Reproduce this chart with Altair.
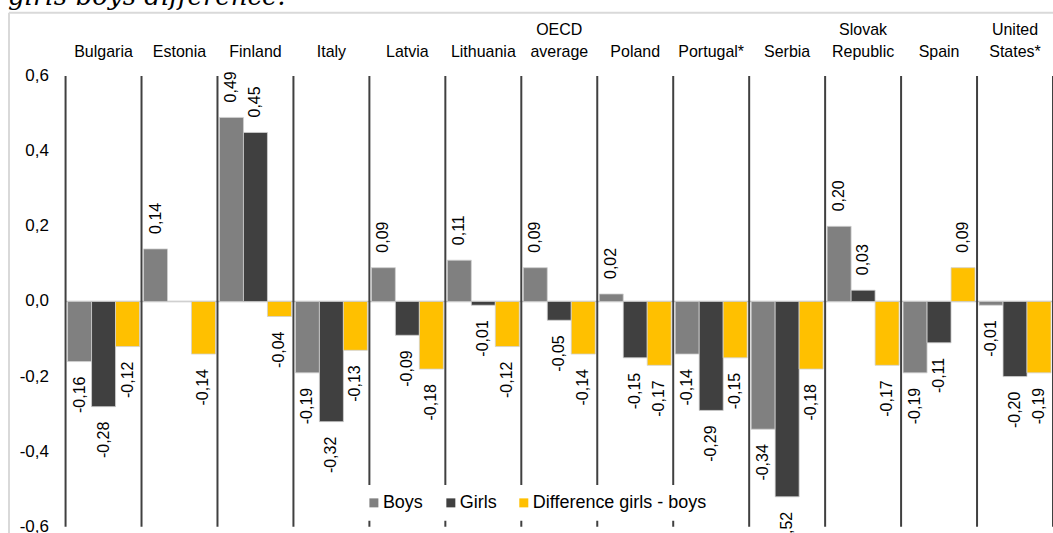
import altair as alt
import pandas as pd

# ---------------- data ----------------
categories = ["Bulgaria", "Estonia", "Finland", "Italy", "Latvia", "Lithuania",
              "OECD average", "Poland", "Portugal*", "Serbia", "Slovak Republic",
              "Spain", "United States*"]
boys = [-0.16, 0.14, 0.49, -0.19, 0.09, 0.11, 0.09, 0.02, -0.14, -0.34, 0.20, -0.19, -0.01]
girls = [-0.28, 0.00, 0.45, -0.32, -0.09, -0.01, -0.05, -0.15, -0.29, -0.52, 0.03, -0.11, -0.20]
diff = [-0.12, -0.14, -0.04, -0.13, -0.18, -0.12, -0.14, -0.17, -0.15, -0.18, -0.17, 0.09, -0.19]
series_names = ["Boys", "Girls", "Difference girls - boys"]
series_colors = ["#808080", "#404040", "#FFC000"]
y_ticks = [-0.6, -0.4, -0.2, 0.0, 0.2, 0.4, 0.6]
title_text = "girls-boys difference."

FONT = "Liberation Sans, Arial, sans-serif"

rows = []
for i, c in enumerate(categories):
    for s, vals in zip(series_names, [boys, girls, diff]):
        rows.append({"country": c, "series": s, "value": vals[i]})
df = pd.DataFrame(rows)
cat_df = pd.DataFrame({"country": categories})
last_df = pd.DataFrame({"country": [categories[-1]]})
tick_df = pd.DataFrame({"v": y_ticks})
one_df = pd.DataFrame({"k": [0]})

W, H = 988, 451
PAD_L, PAD_T = 65.6, 76

x_scale = alt.Scale(domain=categories, paddingInner=0, paddingOuter=0)
y_scale = alt.Scale(domain=[-0.6, 0.6], nice=False, zero=False)
off_scale = alt.Scale(domain=series_names, paddingInner=0, paddingOuter=0.0833)

val_label_expr = "(datum.value < 0 ? '-' : '') + replace(format(abs(datum.value), '.2f'), '.', ',')"
tick_label_expr = "(datum.v < 0 ? '-' : '') + replace(format(abs(datum.v), '.1f'), '.', ',')"

# light gray frame and the (cropped) title line
frame_top = alt.Chart(one_df).mark_rule(color="#d9d9d9", strokeWidth=2).encode(
    x=alt.value(9 - PAD_L), x2=alt.value(1200), y=alt.value(12.5 - PAD_T))
frame_left = alt.Chart(one_df).mark_rule(color="#d9d9d9", strokeWidth=2).encode(
    x=alt.value(9 - PAD_L), y=alt.value(12.5 - PAD_T), y2=alt.value(600))
title = alt.Chart(one_df).mark_text(
    text=title_text, font="DejaVu Serif", fontStyle="italic", fontSize=26,
    align="left", baseline="alphabetic", color="black"
).encode(x=alt.value(8 - PAD_L), y=alt.value(4.5 - PAD_T))

# category labels (top, up to two lines) and value-axis labels (left)
cat_base = alt.Chart(cat_df).transform_calculate(
    line1="indexof(datum.country, ' ') >= 0 ? split(datum.country, ' ')[0] : ''",
    line2="indexof(datum.country, ' ') >= 0 ? split(datum.country, ' ')[1] : datum.country",
)
cat_line1 = cat_base.mark_text(
    font=FONT, fontSize=16, color="black", baseline="alphabetic", align="center"
).encode(
    x=alt.X("country:N", scale=x_scale, sort=categories, axis=None),
    y=alt.value(35 - PAD_T),
    text="line1:N",
)
cat_line2 = cat_base.mark_text(
    font=FONT, fontSize=16, color="black", baseline="alphabetic", align="center"
).encode(
    x=alt.X("country:N", scale=x_scale, sort=categories, axis=None),
    y=alt.value(57 - PAD_T),
    text="line2:N",
)
y_labels = alt.Chart(tick_df).transform_calculate(lab=tick_label_expr).mark_text(
    font=FONT, fontSize=17, color="black", baseline="middle", align="right"
).encode(
    y=alt.Y("v:Q", scale=y_scale, axis=None),
    x=alt.value(49 - PAD_L),
    text="lab:N",
)

# separators between countries
seps = alt.Chart(cat_df).mark_rule(color="#404040", strokeWidth=2).encode(
    x=alt.X("country:N", bandPosition=0, scale=x_scale, sort=categories, axis=None))
sep_last = alt.Chart(last_df).mark_rule(color="#404040", strokeWidth=2).encode(
    x=alt.X("country:N", bandPosition=1, scale=x_scale, sort=categories, axis=None))

zero = alt.Chart(one_df).mark_rule(color="#bfbfbf", strokeWidth=1.5).encode(
    y=alt.Y("k:Q", scale=y_scale, axis=None))

bars = alt.Chart(df).mark_bar(stroke="#d0d0d0", strokeWidth=0.8).encode(
    x=alt.X("country:N", scale=x_scale, sort=categories, axis=None),
    xOffset=alt.XOffset("series:N", scale=off_scale, sort=series_names),
    y=alt.Y("value:Q", scale=y_scale, axis=None),
    color=alt.Color("series:N", scale=alt.Scale(domain=series_names, range=series_colors),
                    legend=alt.Legend(orient="none", legendX=290.5, legendY=409,
                                      direction="horizontal", title=None, fillColor="white",
                                      padding=9, symbolType="square", symbolSize=81,
                                      symbolStrokeWidth=0, labelFont=FONT, labelFontSize=18,
                                      labelColor="black", columnPadding=18, labelOffset=0,
                                      labelLimit=300)),
)

text_enc = dict(
    x=alt.X("country:N", scale=x_scale, sort=categories, axis=None),
    xOffset=alt.XOffset("series:N", scale=off_scale, sort=series_names),
    y=alt.Y("value:Q", scale=y_scale, axis=None),
    text="lab:N",
)

pos_labels = alt.Chart(df).transform_filter("datum.value > 0").transform_calculate(
    lab=val_label_expr
).mark_text(angle=270, align="left", baseline="middle", dx=15, font=FONT,
            fontSize=16, color="black").encode(**text_enc)

neg_labels = alt.Chart(df).transform_filter("datum.value < 0").transform_calculate(
    lab=val_label_expr
).mark_text(angle=270, align="right", baseline="middle", dx=-15, font=FONT,
            fontSize=16, color="black").encode(**text_enc)

chart = alt.layer(
    frame_top, frame_left, title, zero, seps, sep_last, bars,
    pos_labels, neg_labels, cat_line1, cat_line2, y_labels
).properties(
    width=W, height=H,
    autosize=alt.AutoSizeParams(type="none"),
    padding={"left": PAD_L, "top": PAD_T, "right": 0, "bottom": 10},
    background="white",
).configure_view(stroke=None)

chart.save("out.html", embed_options={"renderer": "svg", "actions": False})
